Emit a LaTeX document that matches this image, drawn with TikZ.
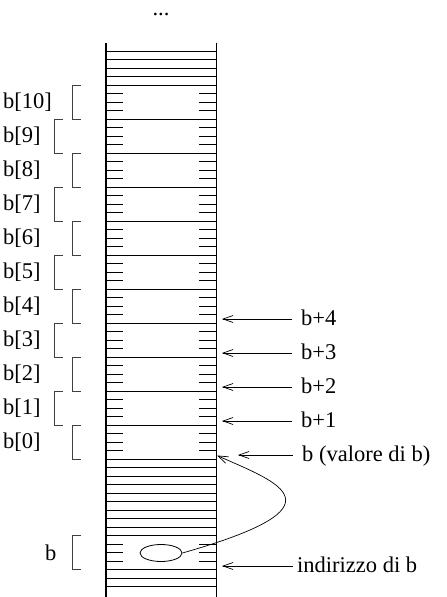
\documentclass[tikz,border=0pt]{standalone}
\usepackage{fontspec}
\setmainfont{Liberation Serif}
\usetikzlibrary{arrows.meta,shapes.geometric}
\begin{document}
\begin{tikzpicture}[x=1pt,y=-1pt,
  font=\fontsize{22.5}{27}\selectfont,
  wallL/.style={line width=1.8pt},
  wallR/.style={line width=1pt},
  cellline/.style={line width=0.8pt},
  tickline/.style={line width=0.8pt},
  brk/.style={line width=0.7pt, draw=black!75},
  arr/.style={line width=0.7pt, -{Straight Barb[length=10pt,width=7pt]}},
  idx/.style={anchor=west, inner sep=0pt},
  ptr/.style={anchor=west, inner sep=0pt, text height=12pt, text depth=0pt},
]
\useasboundingbox (0,0) rectangle (447,597);
% column walls
\coordinate (wlt) at (106,42.5);
\coordinate (wlb) at (106,597);
\coordinate (wrt) at (216,42.5);
\coordinate (wrb) at (216,597);
\draw[wallL] (wlt) -- (wlb);
\draw[wallR] (wrt) -- (wrb);
% full cell lines
\foreach \n in {1,...,5} {\draw[cellline] (106,{42.5+8.5*\n}) -- (216,{42.5+8.5*\n});}
\foreach \n in {9,13,...,49} {\draw[cellline] (106,{42.5+8.5*\n}) -- (216,{42.5+8.5*\n});}
\foreach \n in {50,...,58} {\draw[cellline] (106,{42.5+8.5*\n}) -- (216,{42.5+8.5*\n});}
\foreach \n in {62,63,64} {\draw[cellline] (106,{42.5+8.5*\n}) -- (216,{42.5+8.5*\n});}
% array elements
\foreach \k in {0,...,10} {
  \pgfmathsetmacro\ys{42.5+8.5*(5+4*(10-\k))}
  \pgfmathsetmacro\ye{\ys+34}
  \foreach \j in {1,2,3} {
    \draw[tickline] (106,{\ys+8.5*\j}) -- (123,{\ys+8.5*\j});
    \draw[tickline] (199,{\ys+8.5*\j}) -- (216,{\ys+8.5*\j});
  }
  \pgfmathsetmacro\bx{mod(\k,2)==1 ? 54 : 72}
  \draw[brk] ({\bx+9},\ys) -- (\bx,\ys) -- (\bx,\ye) -- ({\bx+9},\ye);
  \node[idx] (lab\k) at (3,{\ys+17}) {b[\k]};
}
% variable b
\foreach \j in {1,2,3} {
  \draw[tickline] (106,{535.5+8.5*\j}) -- (123,{535.5+8.5*\j});
  \draw[tickline] (199,{535.5+8.5*\j}) -- (216,{535.5+8.5*\j});
}
\draw[brk] (81,535.5) -- (72,535.5) -- (72,569.5) -- (81,569.5);
\node[idx] (labb) at (45,552.5) {b};
\node[anchor=base, inner sep=0pt] (dots) at (161,15) {...};
% pointer arrows
\foreach \i/\n in {4/33,3/37,2/41,1/45} {
  \pgfmathsetmacro\ya{42.5+8.5*\n-4}
  \coordinate (tip\i) at (222,\ya);
  \coordinate (tail\i) at (292,\ya);
  \node[ptr] (p\i) at (301,\ya) {b+\i};
  \draw[arr] (tail\i) -- (tip\i);
}
\coordinate (tip0) at (238,455);
\coordinate (tail0) at (293,455);
\node[ptr] (p0) at (302,455) {b (valore di b)};
\draw[arr] (tail0) -- (tip0);
\coordinate (tipa) at (222,566);
\coordinate (taila) at (293,566);
\node[ptr] (pa) at (297,566) {indirizzo di b};
\draw[arr] (taila) -- (tipa);
% stored pointer value
\node[draw, ellipse, line width=0.8pt, minimum width=42pt, minimum height=17pt, inner sep=0pt] (ell) at (161,553) {};
\coordinate (curvetip) at (217,455.5);
\draw[arr] (ell.east) .. controls (348,506) and (279,483) .. (curvetip);
\end{tikzpicture}
\end{document}
